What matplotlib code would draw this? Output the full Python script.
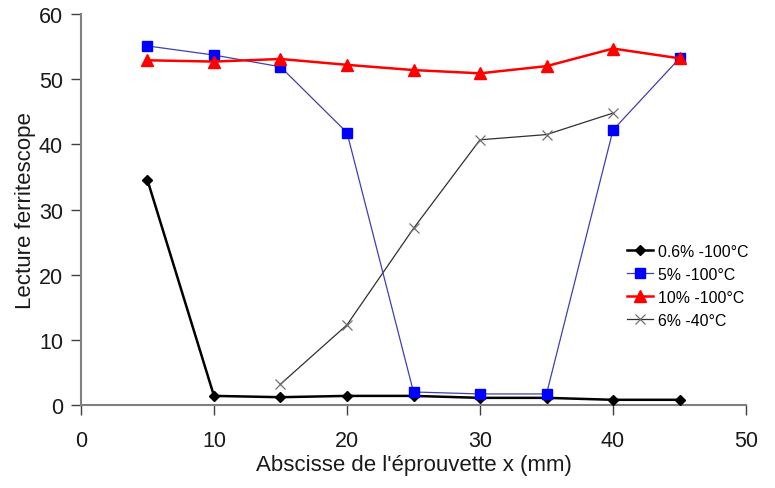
import matplotlib
matplotlib.use("Agg")
import matplotlib.pyplot as plt

plt.rcParams['font.family'] = ['Liberation Sans', 'DejaVu Sans']

x_all = [5, 10, 15, 20, 25, 30, 35, 40, 45]
x_40 = [15, 20, 25, 30, 35, 40]

y_06 = [34.5, 1.4, 1.2, 1.4, 1.4, 1.1, 1.1, 0.8, 0.8]
y_5 = [55.1, 53.7, 51.9, 41.8, 2.0, 1.7, 1.7, 42.2, 53.2]
y_10 = [52.9, 52.7, 53.1, 52.2, 51.4, 50.9, 52.0, 54.7, 53.2]
y_6_40 = [3.2, 12.3, 27.1, 40.7, 41.5, 44.8]

labels = ["0.6% -100°C", "5% -100°C", "10% -100°C", "6% -40°C"]

fig = plt.figure(figsize=(7.75, 4.89), dpi=100)
ax = fig.add_axes([0.1045, 0.1697, 0.8581, 0.7996])

ax.plot(x_all, y_06, color='black', lw=1.8, marker='D', ms=5.5,
        mfc='black', mec='black', label=labels[0], zorder=3)
ax.plot(x_all, y_5, color='#4040B0', lw=0.9, marker='s', ms=7,
        mfc='#0000FF', mec='#0000FF', label=labels[1], zorder=4)
ax.plot(x_all, y_10, color='#FF0000', lw=1.8, marker='^', ms=8,
        mfc='#FF0000', mec='#FF0000', label=labels[2], zorder=5)
ax.plot(x_40, y_6_40, color='#303030', lw=0.9, marker='x', ms=7,
        mec='#707070', mew=0.9, label=labels[3], zorder=2)

ax.set_xlim(0, 50)
ax.set_ylim(0, 60)
ax.set_xticks(range(0, 51, 10))
ax.set_yticks(range(0, 61, 10))

for side in ('top', 'right'):
    ax.spines[side].set_visible(False)
for side in ('left', 'bottom'):
    ax.spines[side].set_color('#808080')
    ax.spines[side].set_linewidth(1.5)

ax.tick_params(axis='both', direction='out', length=7, width=1,
               color='#404040', labelsize=15.5, labelcolor='#1a1a1a', pad=6)
ax.tick_params(axis='x', pad=11)

ax.set_xlabel("Abscisse de l'éprouvette x (mm)", fontsize=16, color='#1a1a1a', labelpad=2)
ax.set_ylabel("Lecture ferritescope", fontsize=16, color='#1a1a1a', labelpad=2)

leg = ax.legend(loc='upper left', bbox_to_anchor=(0.821, 0.412), frameon=False,
                fontsize=11.4, handlelength=1.65, handletextpad=0.3,
                labelspacing=0.5, borderaxespad=0, borderpad=0)

fig.savefig("out.png", dpi=100, facecolor='white')
